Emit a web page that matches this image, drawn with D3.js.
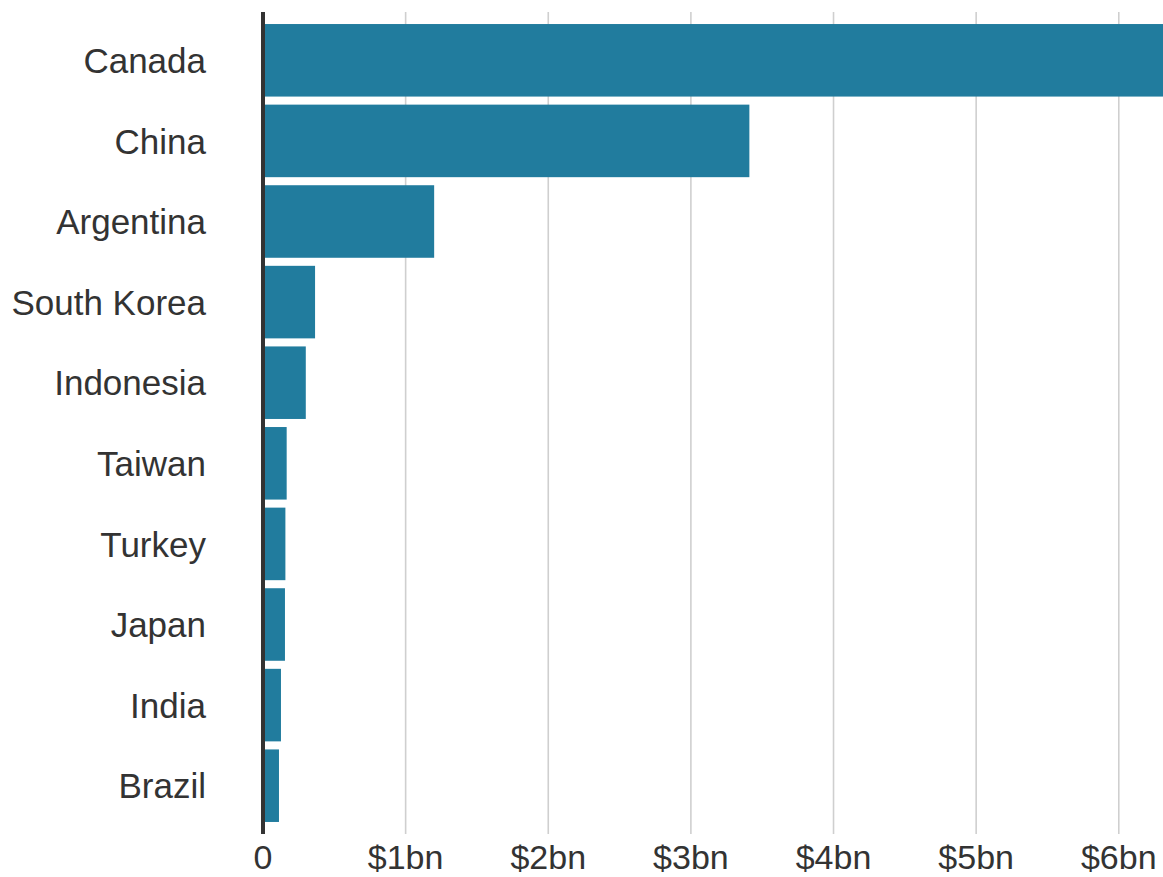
<!DOCTYPE html>
<html><head><meta charset="utf-8">
<script src="https://cdn.jsdelivr.net/npm/d3@7"></script>
<style>
html,body{margin:0;padding:0;background:#fff;overflow:hidden}
text{font-family:"Liberation Sans",Arial,Helvetica,sans-serif;fill:#333}
</style></head>
<body>
<svg id="chart" width="1163" height="877"></svg>
<script>
const countries = ["Canada","China","Argentina","South Korea","Indonesia","Taiwan","Turkey","Japan","India","Brazil"];
const valuesBn = [6.31,3.41,1.20,0.365,0.30,0.166,0.157,0.154,0.126,0.112];
const tickValues = [0,1,2,3,4,5,6];
const tickLabels = ["0","$1bn","$2bn","$3bn","$4bn","$5bn","$6bn"];

const svg = d3.select("#chart");
const x0 = 263, x1 = 1163;
const x = d3.scaleLinear().domain([0, d3.max(valuesBn)]).range([x0, x1]);
const y = d3.scaleBand().domain(countries).range([20, 826]).paddingInner(0.1).paddingOuter(0.05);

// gridlines
svg.append("g").selectAll("line").data(tickValues.slice(1)).join("line")
  .attr("x1", d => x(d)).attr("x2", d => x(d))
  .attr("y1", 12).attr("y2", 834)
  .attr("stroke", "#cfcfcf").attr("stroke-width", 1.6);

// bars
svg.append("g").selectAll("rect").data(countries).join("rect")
  .attr("x", x(0))
  .attr("y", d => y(d))
  .attr("width", (d, i) => x(valuesBn[i]) - x(0))
  .attr("height", y.bandwidth())
  .attr("fill", "#217c9e");

// zero axis line
svg.append("line").attr("x1", x0).attr("x2", x0).attr("y1", 12).attr("y2", 834)
  .attr("stroke", "#333").attr("stroke-width", 4);

// y labels
svg.append("g").selectAll("text").data(countries).join("text")
  .attr("x", 206)
  .attr("y", d => y(d) + y.bandwidth() / 2)
  .attr("dy", "0.36em")
  .attr("text-anchor", "end")
  .attr("font-size", 35)
  .text(d => d);

// x tick labels
svg.append("g").selectAll("text").data(tickValues).join("text")
  .attr("x", d => x(d))
  .attr("y", 869)
  .attr("text-anchor", "middle")
  .attr("font-size", 34)
  .text((d, i) => tickLabels[i]);
</script>
</body></html>
